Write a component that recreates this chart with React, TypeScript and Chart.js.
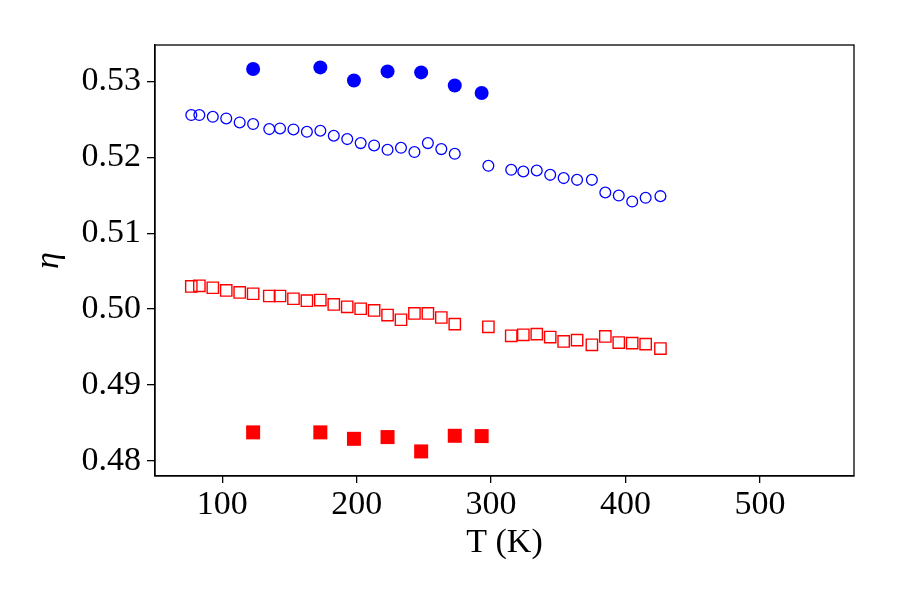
import React, { useEffect, useRef } from "react";
import { Chart, registerables } from "chart.js";

Chart.register(...registerables);

// Temperatures (K) of the open-marker series
const tempOpen = [77, 83, 93, 103, 113, 123, 135, 143, 153, 163, 173, 183, 193, 203, 213, 223, 233, 243, 253, 263, 273, 298, 315, 324, 334, 344, 354, 364, 375, 385, 395, 405, 415, 426];
// Open blue circles
const etaBlueOpen = [0.52557, 0.52557, 0.52534, 0.52512, 0.52459, 0.52438, 0.52372, 0.5238, 0.52367, 0.52336, 0.5235, 0.52284, 0.5224, 0.52187, 0.52156, 0.52099, 0.52125, 0.52069, 0.52187, 0.52108, 0.52046, 0.51888, 0.51835, 0.51813, 0.51826, 0.51769, 0.51726, 0.51703, 0.51703, 0.51536, 0.51496, 0.51417, 0.51466, 0.51488];
// Open red squares
const etaRedOpen = [0.50298, 0.50307, 0.50281, 0.50245, 0.50219, 0.50202, 0.50172, 0.50172, 0.50136, 0.5011, 0.50119, 0.50061, 0.5003, 0.50004, 0.49982, 0.49921, 0.49859, 0.49942, 0.49942, 0.49889, 0.49802, 0.49766, 0.49648, 0.49661, 0.4967, 0.49631, 0.49573, 0.49591, 0.49529, 0.49639, 0.49559, 0.49551, 0.49538, 0.4948];

// Temperatures (K) of the filled-marker series
const tempFilled = [123, 173, 198, 223, 248, 273, 293];
const etaBlueFilled = [0.53164, 0.53185, 0.53013, 0.53132, 0.53119, 0.52947, 0.52847];
const etaRedFilled = [0.48375, 0.48375, 0.4829, 0.48313, 0.48124, 0.4833, 0.48326];

const xTicks = [100, 200, 300, 400, 500];
const yTicks = [0.48, 0.49, 0.5, 0.51, 0.52, 0.53];

const BLUE = "#0000ff";
const RED = "#ff0000";
const FONT = "'Liberation Serif', 'DejaVu Serif', serif";

const pts = (xs: number[], ys: number[]) => xs.map((x, i) => ({ x, y: ys[i] }));

export default function App() {
  const ref = useRef<HTMLCanvasElement>(null);

  useEffect(() => {
    if (!ref.current) return;
    const frame = {
      id: "frame",
      afterDatasetsDraw(chart: any) {
        const { ctx, chartArea } = chart;
        const { left, top, right, bottom } = chartArea;
        ctx.save();
        ctx.strokeStyle = "#000";
        ctx.lineWidth = 1.3;
        ctx.strokeRect(left, top, right - left, bottom - top);
        ctx.restore();
      },
    };
    const chart = new Chart(ref.current, {
      type: "scatter",
      data: {
        datasets: [
          {
            label: "blue open",
            data: pts(tempOpen, etaBlueOpen),
            pointStyle: "circle",
            pointRadius: 5.4,
            pointBorderWidth: 1.3,
            pointBorderColor: BLUE,
            pointBackgroundColor: "rgba(0,0,0,0)",
            pointHoverRadius: 5.4,
          },
          {
            label: "red open",
            data: pts(tempOpen, etaRedOpen),
            pointStyle: "rect",
            pointRadius: 8,
            pointBorderWidth: 1.4,
            pointBorderColor: RED,
            pointBackgroundColor: "rgba(0,0,0,0)",
            pointHoverRadius: 8,
          },
          {
            label: "blue filled",
            data: pts(tempFilled, etaBlueFilled),
            pointStyle: "circle",
            pointRadius: 7,
            pointBorderWidth: 0,
            pointBackgroundColor: BLUE,
            pointBorderColor: BLUE,
            pointHoverRadius: 7,
          },
          {
            label: "red filled",
            data: pts(tempFilled, etaRedFilled),
            pointStyle: "rect",
            pointRadius: 9.9,
            pointBorderWidth: 0,
            pointBackgroundColor: RED,
            pointBorderColor: RED,
            pointHoverRadius: 9.9,
          },
        ],
      },
      options: {
        responsive: false,
        animation: false,
        devicePixelRatio: 1,
        events: [],
        layout: { padding: { left: 0, right: 46, top: 45, bottom: 0 } },
        plugins: { legend: { display: false }, tooltip: { enabled: false } },
        scales: {
          x: {
            type: "linear",
            min: 50,
            max: 570,
            afterBuildTicks: (s: any) => {
              s.ticks = xTicks.map((v) => ({ value: v }));
            },
            afterFit: (s: any) => {
              s.height = 124;
            },
            grid: { drawOnChartArea: false, tickLength: 7, color: "#000", lineWidth: 1.3 },
            border: { color: "#000", width: 1.3 },
            ticks: {
              color: "#000",
              font: { family: FONT, size: 34 },
              padding: 2,
              maxRotation: 0,
              callback: (v: any) => String(v),
            },
            title: {
              display: true,
              text: "T (K)",
              color: "#000",
              font: { family: FONT, size: 34 },
              padding: { top: 0, bottom: 37 },
            },
          },
          y: {
            type: "linear",
            min: 0.478,
            max: 0.5348,
            afterBuildTicks: (s: any) => {
              s.ticks = yTicks.map((v) => ({ value: v }));
            },
            afterFit: (s: any) => {
              s.width = 155;
            },
            grid: { drawOnChartArea: false, tickLength: 8, color: "#000", lineWidth: 1.3 },
            border: { color: "#000", width: 1.3 },
            ticks: {
              color: "#000",
              font: { family: FONT, size: 34 },
              padding: 6,
              callback: (v: any) => Number(v).toFixed(2),
            },
            title: {
              display: true,
              text: "η",
              color: "#000",
              font: { family: FONT, size: 34, style: "italic" },
              padding: { top: 29, bottom: 0 },
            },
          },
        },
      },
      plugins: [frame],
    } as any);
    return () => chart.destroy();
  }, []);

  return (
    <div style={{ position: "fixed", left: 0, top: 0, width: 900, height: 600, background: "#fff" }}>
      <canvas ref={ref} width={900} height={600} style={{ width: 900, height: 600 }} />
    </div>
  );
}
